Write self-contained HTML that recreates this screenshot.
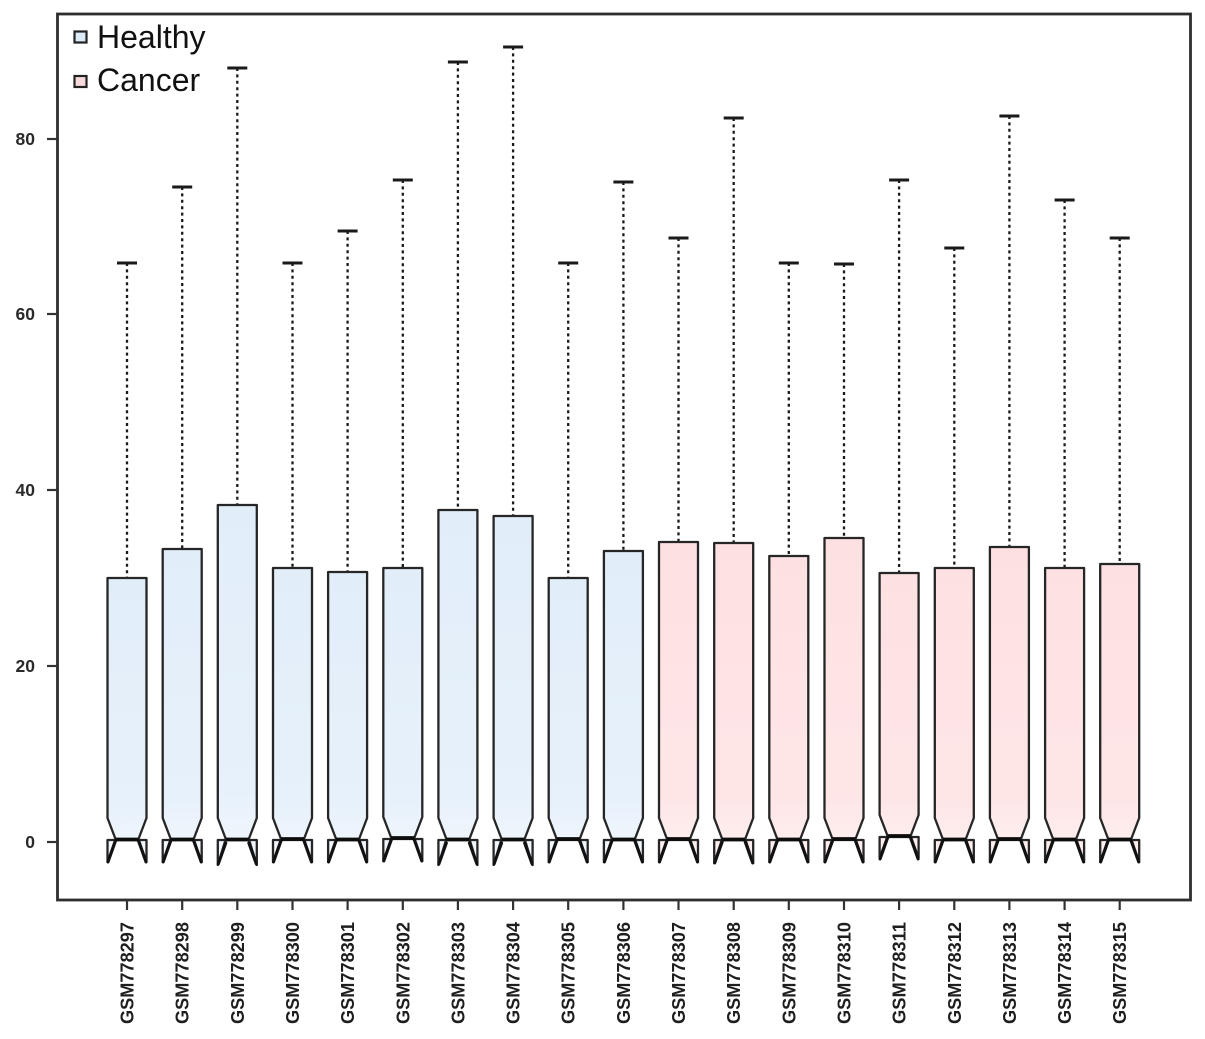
<!DOCTYPE html>
<html><head><meta charset="utf-8"><style>
html,body{margin:0;padding:0;background:#fff;}
svg{display:block;}
.w{stroke:#1a1a1a;stroke-width:2.3;stroke-dasharray:3,3.4;}
.cap{stroke:#1a1a1a;stroke-width:3;}
.box{stroke:#262626;stroke-width:2.3;stroke-linejoin:round;}
.h .box{fill:url(#gh);}
.c .box{fill:url(#gc);}
.med{stroke:#0d0d0d;stroke-width:3.8;}
.leg{stroke:#111;stroke-width:3;stroke-linecap:round;}
.xl{font-family:"Liberation Sans",Arial,sans-serif;font-weight:bold;font-size:18px;fill:#1e1e1e;}
.yl{font-family:"Liberation Sans",Arial,sans-serif;font-weight:bold;font-size:17.5px;fill:#2a2a2a;}
.lg{font-family:"Liberation Sans",Arial,sans-serif;font-size:32px;fill:#111;}
</style></head><body>
<svg width="1205" height="1039" viewBox="0 0 1205 1039" xmlns="http://www.w3.org/2000/svg">
<defs>
<linearGradient id="gh" x1="0" y1="0" x2="0" y2="1">
<stop offset="0" stop-color="#e1edf9"/><stop offset="0.8" stop-color="#e7f1fb"/><stop offset="1" stop-color="#f3f8fd"/>
</linearGradient>
<linearGradient id="gc" x1="0" y1="0" x2="0" y2="1">
<stop offset="0" stop-color="#fde1e2"/><stop offset="0.8" stop-color="#fee6e7"/><stop offset="1" stop-color="#fff2f2"/>
</linearGradient>
<g id="legs"><line class="leg" x1="-11.5" y1="841" x2="-19" y2="862"/><line class="leg" x1="11.5" y1="841" x2="19" y2="862"/></g>
</defs>
<rect x="0" y="0" width="1205" height="1039" fill="#fff"/>
<!-- frame -->
<rect x="57.5" y="14" width="1133" height="886" fill="none" stroke="#2e2e2e" stroke-width="2.8"/>
<!-- y axis ticks -->
<g stroke="#333" stroke-width="2.2">
<line x1="47" x2="57" y1="842" y2="842"/>
<line x1="47" x2="57" y1="666" y2="666"/>
<line x1="47" x2="57" y1="490" y2="490"/>
<line x1="47" x2="57" y1="314" y2="314"/>
<line x1="47" x2="57" y1="139" y2="139"/>
</g>
<g class="yl" text-anchor="end">
<text x="35" y="848">0</text>
<text x="35" y="672">20</text>
<text x="35" y="496">40</text>
<text x="35" y="320">60</text>
<text x="35" y="145">80</text>
</g>
<!-- legend -->
<rect x="74.5" y="31.5" width="12" height="11" fill="#dcebf8" stroke="#222" stroke-width="2.2"/>
<text class="lg" x="97" y="48">Healthy</text>
<rect x="74.5" y="76" width="12" height="11" fill="#f9dadc" stroke="#222" stroke-width="2.2"/>
<text class="lg" x="97" y="91">Cancer</text>

<!-- boxes -->
<g class="h" transform="translate(127,0)"><line class="w" x1="0" y1="263" x2="0" y2="578"/><line class="cap" x1="-10" x2="10" y1="263" y2="263"/><polygon class="box" points="-19.5,840 -19.5,862 -11.5,839 -19.5,818 -19.5,578 19.5,578 19.5,818 11.5,839 19.5,862 19.5,840"/><use href="#legs"/><line class="med" x1="-11.5" x2="11.5" y1="839.5" y2="839.5"/></g>
<g class="h" transform="translate(182.2,0)"><line class="w" x1="0" y1="187" x2="0" y2="549"/><line class="cap" x1="-10" x2="10" y1="187" y2="187"/><polygon class="box" points="-19.5,840 -19.5,862 -11.5,839 -19.5,818 -19.5,549 19.5,549 19.5,818 11.5,839 19.5,862 19.5,840"/><use href="#legs"/><line class="med" x1="-11.5" x2="11.5" y1="839.5" y2="839.5"/></g>
<g class="h" transform="translate(237.3,0)"><line class="w" x1="0" y1="68" x2="0" y2="505"/><line class="cap" x1="-10" x2="10" y1="68" y2="68"/><polygon class="box" points="-19.5,840 -19.5,865 -11.5,839 -19.5,818 -19.5,505 19.5,505 19.5,818 11.5,839 19.5,865 19.5,840"/><use href="#legs" y="2"/><line class="med" x1="-11.5" x2="11.5" y1="839.5" y2="839.5"/></g>
<g class="h" transform="translate(292.5,0)"><line class="w" x1="0" y1="263" x2="0" y2="568"/><line class="cap" x1="-10" x2="10" y1="263" y2="263"/><polygon class="box" points="-19.5,840 -19.5,862 -11.5,839 -19.5,818 -19.5,568 19.5,568 19.5,818 11.5,839 19.5,862 19.5,840"/><use href="#legs"/><line class="med" x1="-11.5" x2="11.5" y1="839" y2="839"/></g>
<g class="h" transform="translate(347.6,0)"><line class="w" x1="0" y1="231" x2="0" y2="572"/><line class="cap" x1="-10" x2="10" y1="231" y2="231"/><polygon class="box" points="-19.5,840 -19.5,862 -11.5,839 -19.5,818 -19.5,572 19.5,572 19.5,818 11.5,839 19.5,862 19.5,840"/><use href="#legs"/><line class="med" x1="-11.5" x2="11.5" y1="839.5" y2="839.5"/></g>
<g class="h" transform="translate(402.8,0)"><line class="w" x1="0" y1="180" x2="0" y2="568"/><line class="cap" x1="-10" x2="10" y1="180" y2="180"/><polygon class="box" points="-19.5,839 -19.5,861 -11.5,838 -19.5,817 -19.5,568 19.5,568 19.5,817 11.5,838 19.5,861 19.5,839"/><use href="#legs" y="-1"/><line class="med" x1="-11.5" x2="11.5" y1="838" y2="838"/></g>
<g class="h" transform="translate(457.9,0)"><line class="w" x1="0" y1="62" x2="0" y2="510"/><line class="cap" x1="-10" x2="10" y1="62" y2="62"/><polygon class="box" points="-19.5,840 -19.5,865 -11.5,839 -19.5,818 -19.5,510 19.5,510 19.5,818 11.5,839 19.5,865 19.5,840"/><use href="#legs" y="2"/><line class="med" x1="-11.5" x2="11.5" y1="839.5" y2="839.5"/></g>
<g class="h" transform="translate(513.1,0)"><line class="w" x1="0" y1="47" x2="0" y2="516"/><line class="cap" x1="-10" x2="10" y1="47" y2="47"/><polygon class="box" points="-19.5,840 -19.5,865 -11.5,839 -19.5,818 -19.5,516 19.5,516 19.5,818 11.5,839 19.5,865 19.5,840"/><use href="#legs" y="2"/><line class="med" x1="-11.5" x2="11.5" y1="839.5" y2="839.5"/></g>
<g class="h" transform="translate(568.2,0)"><line class="w" x1="0" y1="263" x2="0" y2="578"/><line class="cap" x1="-10" x2="10" y1="263" y2="263"/><polygon class="box" points="-19.5,840 -19.5,862 -11.5,839 -19.5,818 -19.5,578 19.5,578 19.5,818 11.5,839 19.5,862 19.5,840"/><use href="#legs"/><line class="med" x1="-11.5" x2="11.5" y1="839" y2="839"/></g>
<g class="h" transform="translate(623.4,0)"><line class="w" x1="0" y1="182" x2="0" y2="551"/><line class="cap" x1="-10" x2="10" y1="182" y2="182"/><polygon class="box" points="-19.5,840 -19.5,862 -11.5,839 -19.5,818 -19.5,551 19.5,551 19.5,818 11.5,839 19.5,862 19.5,840"/><use href="#legs"/><line class="med" x1="-11.5" x2="11.5" y1="839.5" y2="839.5"/></g>
<g class="c" transform="translate(678.5,0)"><line class="w" x1="0" y1="238" x2="0" y2="542"/><line class="cap" x1="-10" x2="10" y1="238" y2="238"/><polygon class="box" points="-19.5,840 -19.5,862 -11.5,839 -19.5,818 -19.5,542 19.5,542 19.5,818 11.5,839 19.5,862 19.5,840"/><use href="#legs"/><line class="med" x1="-11.5" x2="11.5" y1="839" y2="839"/></g>
<g class="c" transform="translate(733.7,0)"><line class="w" x1="0" y1="118" x2="0" y2="543"/><line class="cap" x1="-10" x2="10" y1="118" y2="118"/><polygon class="box" points="-19.5,840 -19.5,863 -11.5,839 -19.5,818 -19.5,543 19.5,543 19.5,818 11.5,839 19.5,863 19.5,840"/><use href="#legs" y="1"/><line class="med" x1="-11.5" x2="11.5" y1="839.5" y2="839.5"/></g>
<g class="c" transform="translate(788.8,0)"><line class="w" x1="0" y1="263" x2="0" y2="556"/><line class="cap" x1="-10" x2="10" y1="263" y2="263"/><polygon class="box" points="-19.5,840 -19.5,862 -11.5,839 -19.5,818 -19.5,556 19.5,556 19.5,818 11.5,839 19.5,862 19.5,840"/><use href="#legs"/><line class="med" x1="-11.5" x2="11.5" y1="839.5" y2="839.5"/></g>
<g class="c" transform="translate(844,0)"><line class="w" x1="0" y1="264" x2="0" y2="538"/><line class="cap" x1="-10" x2="10" y1="264" y2="264"/><polygon class="box" points="-19.5,840 -19.5,862 -11.5,839 -19.5,818 -19.5,538 19.5,538 19.5,818 11.5,839 19.5,862 19.5,840"/><use href="#legs"/><line class="med" x1="-11.5" x2="11.5" y1="839" y2="839"/></g>
<g class="c" transform="translate(899.1,0)"><line class="w" x1="0" y1="180" x2="0" y2="573"/><line class="cap" x1="-10" x2="10" y1="180" y2="180"/><polygon class="box" points="-19.5,837 -19.5,858 -11.5,836 -19.5,815 -19.5,573 19.5,573 19.5,815 11.5,836 19.5,858 19.5,837"/><use href="#legs" y="-3"/><line class="med" x1="-11.5" x2="11.5" y1="836" y2="836"/></g>
<g class="c" transform="translate(954.3,0)"><line class="w" x1="0" y1="248" x2="0" y2="568"/><line class="cap" x1="-10" x2="10" y1="248" y2="248"/><polygon class="box" points="-19.5,840 -19.5,862 -11.5,839 -19.5,818 -19.5,568 19.5,568 19.5,818 11.5,839 19.5,862 19.5,840"/><use href="#legs"/><line class="med" x1="-11.5" x2="11.5" y1="839.5" y2="839.5"/></g>
<g class="c" transform="translate(1009.4,0)"><line class="w" x1="0" y1="116" x2="0" y2="547"/><line class="cap" x1="-10" x2="10" y1="116" y2="116"/><polygon class="box" points="-19.5,840 -19.5,862 -11.5,839 -19.5,818 -19.5,547 19.5,547 19.5,818 11.5,839 19.5,862 19.5,840"/><use href="#legs"/><line class="med" x1="-11.5" x2="11.5" y1="839" y2="839"/></g>
<g class="c" transform="translate(1064.6,0)"><line class="w" x1="0" y1="200" x2="0" y2="568"/><line class="cap" x1="-10" x2="10" y1="200" y2="200"/><polygon class="box" points="-19.5,840 -19.5,862 -11.5,839 -19.5,818 -19.5,568 19.5,568 19.5,818 11.5,839 19.5,862 19.5,840"/><use href="#legs"/><line class="med" x1="-11.5" x2="11.5" y1="839.5" y2="839.5"/></g>
<g class="c" transform="translate(1119.7,0)"><line class="w" x1="0" y1="238" x2="0" y2="564"/><line class="cap" x1="-10" x2="10" y1="238" y2="238"/><polygon class="box" points="-19.5,840 -19.5,862 -11.5,839 -19.5,818 -19.5,564 19.5,564 19.5,818 11.5,839 19.5,862 19.5,840"/><use href="#legs"/><line class="med" x1="-11.5" x2="11.5" y1="839.5" y2="839.5"/></g>

<!-- x ticks -->
<g stroke="#333" stroke-width="2.2">
<line x1="127" x2="127" y1="900" y2="910"/>
<line x1="182.2" x2="182.2" y1="900" y2="910"/>
<line x1="237.3" x2="237.3" y1="900" y2="910"/>
<line x1="292.5" x2="292.5" y1="900" y2="910"/>
<line x1="347.6" x2="347.6" y1="900" y2="910"/>
<line x1="402.8" x2="402.8" y1="900" y2="910"/>
<line x1="457.9" x2="457.9" y1="900" y2="910"/>
<line x1="513.1" x2="513.1" y1="900" y2="910"/>
<line x1="568.2" x2="568.2" y1="900" y2="910"/>
<line x1="623.4" x2="623.4" y1="900" y2="910"/>
<line x1="678.5" x2="678.5" y1="900" y2="910"/>
<line x1="733.7" x2="733.7" y1="900" y2="910"/>
<line x1="788.8" x2="788.8" y1="900" y2="910"/>
<line x1="844" x2="844" y1="900" y2="910"/>
<line x1="899.1" x2="899.1" y1="900" y2="910"/>
<line x1="954.3" x2="954.3" y1="900" y2="910"/>
<line x1="1009.4" x2="1009.4" y1="900" y2="910"/>
<line x1="1064.6" x2="1064.6" y1="900" y2="910"/>
<line x1="1119.7" x2="1119.7" y1="900" y2="910"/>
</g>
<g class="xl" text-anchor="end">
<text transform="translate(133.5,922) rotate(-90)" textLength="102" lengthAdjust="spacingAndGlyphs">GSM778297</text>
<text transform="translate(188.7,922) rotate(-90)" textLength="102" lengthAdjust="spacingAndGlyphs">GSM778298</text>
<text transform="translate(243.8,922) rotate(-90)" textLength="102" lengthAdjust="spacingAndGlyphs">GSM778299</text>
<text transform="translate(299,922) rotate(-90)" textLength="102" lengthAdjust="spacingAndGlyphs">GSM778300</text>
<text transform="translate(354.1,922) rotate(-90)" textLength="102" lengthAdjust="spacingAndGlyphs">GSM778301</text>
<text transform="translate(409.3,922) rotate(-90)" textLength="102" lengthAdjust="spacingAndGlyphs">GSM778302</text>
<text transform="translate(464.4,922) rotate(-90)" textLength="102" lengthAdjust="spacingAndGlyphs">GSM778303</text>
<text transform="translate(519.6,922) rotate(-90)" textLength="102" lengthAdjust="spacingAndGlyphs">GSM778304</text>
<text transform="translate(574.7,922) rotate(-90)" textLength="102" lengthAdjust="spacingAndGlyphs">GSM778305</text>
<text transform="translate(629.9,922) rotate(-90)" textLength="102" lengthAdjust="spacingAndGlyphs">GSM778306</text>
<text transform="translate(685,922) rotate(-90)" textLength="102" lengthAdjust="spacingAndGlyphs">GSM778307</text>
<text transform="translate(740.2,922) rotate(-90)" textLength="102" lengthAdjust="spacingAndGlyphs">GSM778308</text>
<text transform="translate(795.3,922) rotate(-90)" textLength="102" lengthAdjust="spacingAndGlyphs">GSM778309</text>
<text transform="translate(850.5,922) rotate(-90)" textLength="102" lengthAdjust="spacingAndGlyphs">GSM778310</text>
<text transform="translate(905.6,922) rotate(-90)" textLength="102" lengthAdjust="spacingAndGlyphs">GSM778311</text>
<text transform="translate(960.8,922) rotate(-90)" textLength="102" lengthAdjust="spacingAndGlyphs">GSM778312</text>
<text transform="translate(1015.9,922) rotate(-90)" textLength="102" lengthAdjust="spacingAndGlyphs">GSM778313</text>
<text transform="translate(1071.1,922) rotate(-90)" textLength="102" lengthAdjust="spacingAndGlyphs">GSM778314</text>
<text transform="translate(1126.2,922) rotate(-90)" textLength="102" lengthAdjust="spacingAndGlyphs">GSM778315</text>
</g>
</svg>
</body></html>
